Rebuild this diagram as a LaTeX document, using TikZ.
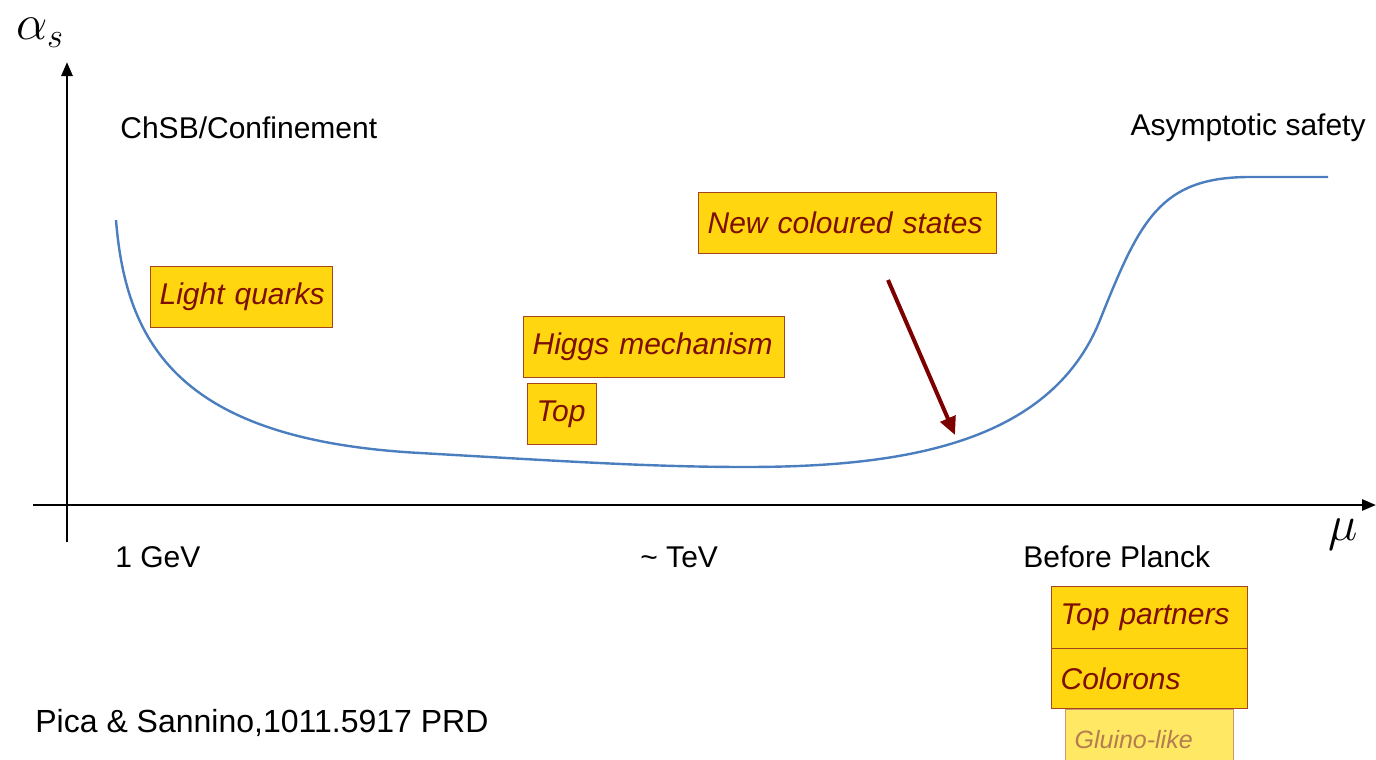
\documentclass[tikz,border=0pt]{standalone}
\usepackage{fontspec}
\setmainfont{Liberation Sans}
\usetikzlibrary{arrows.meta}
\definecolor{boxfill}{RGB}{255,214,16}
\definecolor{boxline}{RGB}{165,70,30}
\definecolor{boxtext}{RGB}{125,15,0}
\definecolor{palefill}{RGB}{255,232,100}
\definecolor{paleline}{RGB}{205,150,110}
\definecolor{paletext}{RGB}{180,125,80}
\definecolor{curveblue}{RGB}{74,126,190}
\definecolor{arrowred}{RGB}{125,0,0}
\begin{document}
\begin{tikzpicture}[x=0.5pt,y=-0.5pt,
  lbl/.style={font=\fontsize{15}{17}\selectfont, inner sep=0pt},
  ybox/.style={draw=boxline, line width=0.6pt, fill=boxfill, text=boxtext,
    font=\fontsize{15}{17}\selectfont\itshape, anchor=north west,
    inner xsep=4.5pt, inner ysep=0pt, align=left},
  axis/.style={line width=1.3pt, -{Triangle[length=7pt,width=5.5pt]}}]
\useasboundingbox (0,0) rectangle (1376,760);
% axes
\coordinate (yb) at (67,542);
\coordinate (yt) at (67,62);
\coordinate (xl) at (33,505);
\coordinate (xr) at (1376,505);
\draw[axis] (yb) -- (yt);
\draw[axis] (xl) -- (xr);
\node[inner sep=0pt, anchor=center] (alpha) at (40,33) {\fontsize{25}{28}\selectfont$\alpha_s$};
\node[inner sep=0pt, anchor=center] (mu) at (1343,535) {\fontsize{25}{28}\selectfont$\mu$};
% curve
\draw[curveblue, line width=1.2pt] (116,220) .. controls (126,345) and (180,440) .. (420,453)
  .. controls (560,461) and (650,467) .. (745,467)
  .. controls (900,467) and (1050,445) .. (1100,320)
  .. controls (1140,220) and (1160,177) .. (1250,177)
  -- (1328,177);
% labels
\node[lbl, anchor=west] (chsb) at (120,128) {ChSB/Confinement};
\node[lbl, anchor=east] (as) at (1366,128) {Asymptotic safety};
\node[lbl, anchor=west] (gev) at (115,557) {1 GeV};
\node[lbl, anchor=west] (tev) at (640,557) {\char`\~\ TeV};
\node[lbl, anchor=west] (planck) at (1023,557) {Before Planck};
\node[lbl, anchor=west, font=\fontsize{16}{18}\selectfont] (ref) at (35,723) {Pica \& Sannino,1011.5917 PRD};
% boxes
\node[ybox, minimum width=91pt, minimum height=30.5pt, text width=82pt] (lq) at (150,266) {\mbox{Light quarks}};
\node[ybox, minimum width=149pt, minimum height=30.5pt, text width=140pt] (ncs) at (698,192) {\mbox{New coloured states}};
\node[ybox, minimum width=130.5pt, minimum height=30.5pt, text width=121.5pt] (higgs) at (523,316) {\mbox{Higgs mechanism}};
\node[ybox, minimum width=34.5pt, minimum height=30.5pt, text width=25.5pt] (top) at (527,383) {\mbox{Top}};
\node[ybox, minimum width=98pt, minimum height=31pt, text width=89pt] (tp) at (1051,586) {\mbox{Top partners}};
\node[ybox, minimum width=98pt, minimum height=30pt, text width=89pt] (col) at (1051,648) {\mbox{Colorons}};
\node[ybox, draw=paleline, fill=palefill, text=paletext, font=\fontsize{12.5}{14}\selectfont\itshape,
  minimum width=84pt, minimum height=30pt, text width=75pt] (glu) at (1065,709) {\mbox{Gluino-like}};
% arrow
\coordinate (arrs) at (888,280);
\coordinate (arre) at (955,435);
\draw[arrowred, line width=2pt, -{Triangle[length=9pt,width=8pt]}] (arrs) -- (arre);
\end{tikzpicture}
\end{document}
